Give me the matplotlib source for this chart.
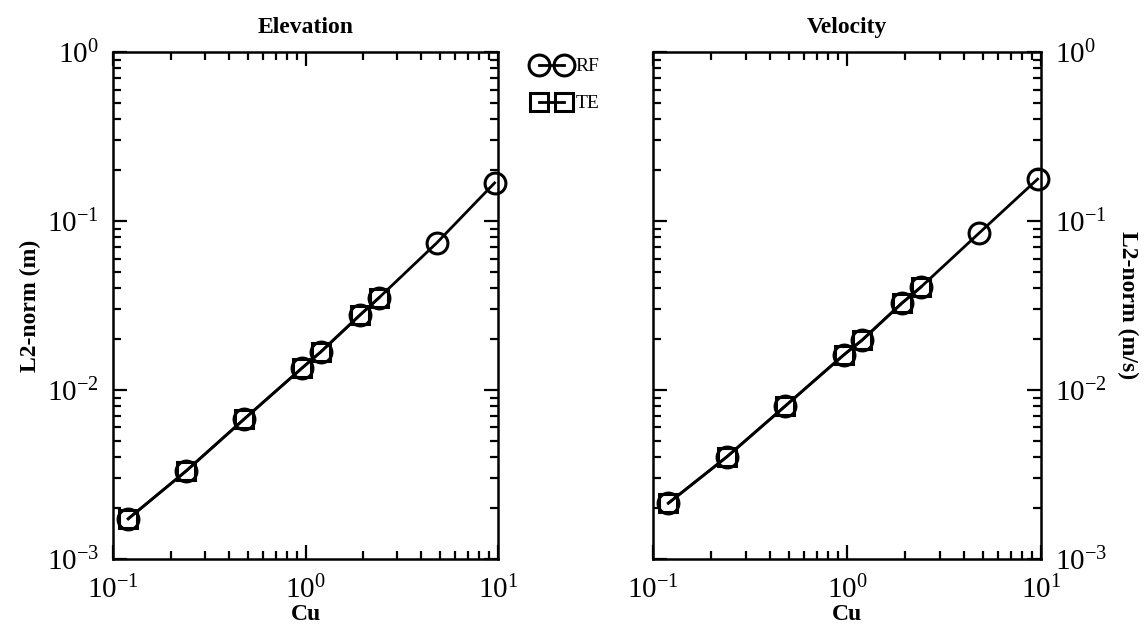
import matplotlib.pyplot as plt
from matplotlib.ticker import LogLocator, NullFormatter
from matplotlib.lines import Line2D

plt.rcParams['font.family'] = ['Liberation Serif', 'DejaVu Serif']
plt.rcParams['mathtext.fontset'] = 'stix'

# Courant number and L2 error norms
cu = [0.12, 0.24, 0.48, 0.96, 1.2, 1.92, 2.4, 4.8, 9.6]
rf_elev = [0.00173, 0.00332, 0.00673, 0.0135, 0.0168, 0.0278, 0.035, 0.0741, 0.168]
rf_vel = [0.00214, 0.00402, 0.00803, 0.0161, 0.0198, 0.0327, 0.0406, 0.0849, 0.177]
cu_te = [0.12, 0.24, 0.48, 0.96, 1.2, 1.92, 2.4]
te_elev = [0.00173, 0.00332, 0.00673, 0.0135, 0.0168, 0.0278, 0.035]
te_vel = [0.00214, 0.00402, 0.00803, 0.0161, 0.0198, 0.0327, 0.0406]

fig = plt.figure(figsize=(11.44, 6.29), dpi=100)
ax1 = fig.add_axes([0.0988, 0.1113, 0.3365, 0.806])
ax2 = fig.add_axes([0.5708, 0.1113, 0.3392, 0.806])

rf_style = dict(color='black', lw=2.0, marker='o', ms=15, mfc='none', mew=2.2)
te_style = dict(color='black', lw=2.0, marker='s', ms=13, mfc='none', mew=2.2)

for ax, rf, te, title in [(ax1, rf_elev, te_elev, 'Elevation'),
                          (ax2, rf_vel, te_vel, 'Velocity')]:
    ax.plot(cu, rf, clip_on=False, zorder=3, **rf_style)
    ax.plot(cu_te, te, clip_on=False, zorder=4, **te_style)
    ax.set_xscale('log')
    ax.set_yscale('log')
    ax.set_xlim(0.1, 10)
    ax.set_ylim(1e-3, 1)
    ax.xaxis.set_major_locator(LogLocator(base=10, numticks=10))
    ax.yaxis.set_major_locator(LogLocator(base=10, numticks=10))
    ax.xaxis.set_minor_locator(LogLocator(base=10, subs=range(2, 10), numticks=20))
    ax.yaxis.set_minor_locator(LogLocator(base=10, subs=range(2, 10), numticks=20))
    ax.xaxis.set_minor_formatter(NullFormatter())
    ax.yaxis.set_minor_formatter(NullFormatter())
    ax.tick_params(which='both', direction='in', top=True, right=True,
                   width=1.6, labelsize=21)
    ax.tick_params(axis='x', which='major', length=10, pad=12)
    ax.tick_params(axis='y', which='major', length=10, pad=10)
    ax.tick_params(which='minor', length=5.5)
    for s in ax.spines.values():
        s.set_linewidth(1.8)
    ax.set_title(title, fontsize=17, fontweight='bold', pad=14)
    ax.set_xlabel('Cu', fontsize=17, fontweight='bold', labelpad=0)

ax1.set_ylabel('L2-norm (m)', fontsize=17, fontweight='bold', labelpad=4)
ax2.yaxis.tick_right()
ax2.tick_params(which='both', left=True, right=True)
ax2.yaxis.set_label_position('right')
ax2.set_ylabel('L2-norm (m/s)', fontsize=17, fontweight='bold',
               rotation=270, labelpad=22)

handles = [Line2D([], [], **rf_style), Line2D([], [], **te_style)]
fig.legend(handles, ['RF', 'TE'], loc='upper left',
           bbox_to_anchor=(525 / 1144, 1 - 50 / 629), frameon=False,
           numpoints=2, handlelength=1.9, handletextpad=0.3,
           labelspacing=1.0, fontsize=14, borderaxespad=0)

fig.savefig('out.png', dpi=100)
